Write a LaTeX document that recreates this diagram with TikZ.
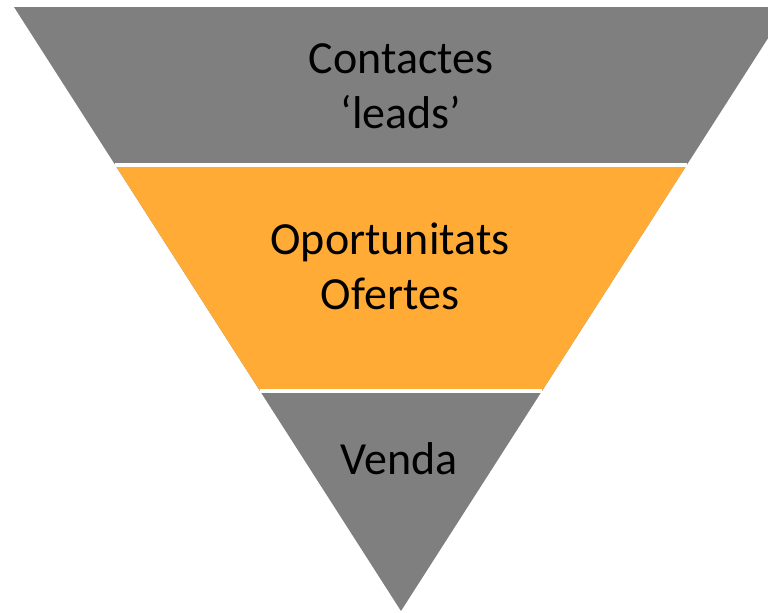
\documentclass[tikz,border=0pt]{standalone}
\usepackage{fontspec}
\setmainfont{Carlito}
\usepackage{xcolor}
\usetikzlibrary{calc}

\definecolor{funnelgray}{HTML}{7F7F7F}
\definecolor{funnelorange}{HTML}{FFAB36}

\begin{document}
\begin{tikzpicture}[x=0.75pt, y=-0.75pt,
                    label/.style={align=center, inner sep=0pt,
                                  font=\fontsize{34.5}{41.4}\selectfont},
                    gap/.style={white, line width=3pt}
                   ]

    \useasboundingbox (0,0) rectangle (768,612);
    \clip (0,0) rectangle (768,612);

    \coordinate (apex) at (401,611);
    \coordinate (tl) at (14,7);
    \coordinate (tr) at (788,7);

    \fill[funnelgray] (apex) -- (tl) -- (tr) -- cycle;
    \fill[funnelorange] ($(apex)!0.7384!(tl)$) -- ($(apex)!0.7384!(tr)$)
                     -- ($(apex)!0.3642!(tr)$) -- ($(apex)!0.3642!(tl)$) -- cycle;

    \draw[gap] ($(apex)!0.7384!(tl)$) -- ($(apex)!0.7384!(tr)$);
    \draw[gap] ($(apex)!0.3642!(tl)$) -- ($(apex)!0.3642!(tr)$);

    \node[label] (contactes) at (401,86) {Contactes\\‘leads’};
    \node[label] (oportunitats) at (390,266) {Oportunitats\\Ofertes};
    \node[label, anchor=base] (venda) at (399,474) {Venda};

\end{tikzpicture}
\end{document}
